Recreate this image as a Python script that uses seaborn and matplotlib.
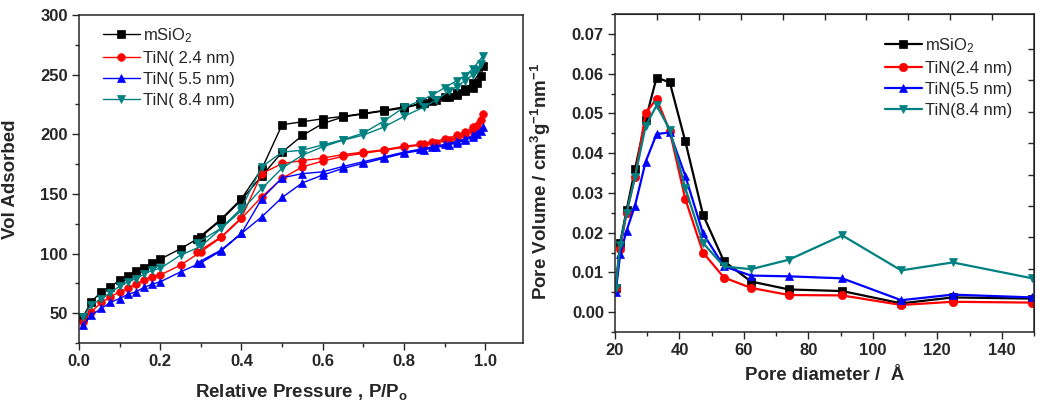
import numpy as np
import pandas as pd
import matplotlib
matplotlib.use("Agg")
import matplotlib.pyplot as plt
from matplotlib.ticker import MultipleLocator
import seaborn as sns

# ---- left panel: N2 isotherms (adsorption then desorption branch) ----
p_ads = [0.01, 0.03, 0.055, 0.077, 0.10, 0.12, 0.14, 0.16, 0.18, 0.20, 0.25, 0.30, 0.35, 0.40,
         0.45, 0.50, 0.55, 0.60, 0.65, 0.70, 0.75, 0.80, 0.85, 0.88, 0.91, 0.93, 0.95, 0.97, 0.98, 0.99]
p_des = [0.995, 0.97, 0.95, 0.93, 0.90, 0.87, 0.84, 0.80, 0.75, 0.70, 0.65, 0.60, 0.55, 0.50,
         0.45, 0.40, 0.35, 0.29]

sio2_ads = [47, 59.5, 67.9, 72, 77.7, 81.3, 85.5, 88.3, 92.2, 95.3, 104, 114, 128, 145,
            165, 185, 199, 209, 214.5, 217, 219.5, 222, 226, 228.5, 231, 233, 236, 239, 243, 249]
sio2_des = [257, 243, 238, 235, 231, 228, 225.5, 223, 220, 217.5, 215, 213, 210.5, 208,
            171, 146, 129, 112]
tin24_ads = [42.7, 51, 59, 63.7, 67.9, 70.7, 74.3, 77.7, 80.5, 82, 90.3, 101.4, 113.5, 129.4,
             147.6, 163, 172.7, 177.5, 181.5, 184, 186.5, 189, 191.5, 193, 195, 197, 199, 203, 207, 212]
tin24_des = [217, 206, 202, 199, 196, 193.5, 191.5, 190, 187, 185, 183, 180, 178, 175.5,
             167, 130, 114, 101]
tin55_ads = [40, 48.3, 54, 59, 62.3, 65.7, 67.9, 71.6, 74.3, 76.3, 84.6, 92.2, 102.3, 116.9,
             130.8, 147, 159.3, 165.8, 171.4, 175.6, 179.8, 184, 187, 189, 191, 193, 195, 198, 200, 203]
tin55_des = [206, 199, 196, 194, 191.5, 189.5, 187.5, 185, 181, 177, 173, 168.5, 167, 163.5,
             146, 117, 103, 92]
tin84_ads = [47, 56.7, 62.3, 67, 72.6, 76.3, 79, 82.7, 86, 87.5, 98.7, 106, 121, 136,
             154.6, 171.6, 182.5, 189.5, 195, 199.3, 206, 215, 223, 229, 236, 240, 245, 250, 254, 259]
tin84_des = [266, 255, 249, 245, 239, 233, 228, 222.5, 211, 201, 195.5, 191, 186.7, 185,
             172.7, 138, 121.3, 108.7]

# ---- right panel: pore size distribution ----
diam = [20.2, 21.6, 23.6, 26.2, 29.5, 32.9, 37.0, 41.8, 47.3, 53.8, 62.2, 74.0, 90.5, 108.8, 124.8, 149.5]
psd_sio2 = [0.006, 0.0174, 0.0257, 0.0359, 0.0484, 0.0590, 0.0578, 0.0430, 0.0245, 0.0128,
            0.0077, 0.0057, 0.0053, 0.0022, 0.0037, 0.0034]
psd_tin24 = [0.006, 0.016, 0.025, 0.034, 0.0500, 0.0537, 0.0455, 0.0285, 0.0150, 0.0087,
             0.0061, 0.0043, 0.0042, 0.0018, 0.0026, 0.0024]
psd_tin55 = [0.005, 0.0145, 0.0205, 0.0268, 0.0378, 0.0448, 0.0452, 0.0343, 0.0198, 0.0115,
             0.0092, 0.0090, 0.0085, 0.0030, 0.0044, 0.0037]
psd_tin84 = [0.006, 0.017, 0.025, 0.0340, 0.0468, 0.0520, 0.0459, 0.0312, 0.0174, 0.0115,
             0.0108, 0.0132, 0.0193, 0.0105, 0.0125, 0.0085]

colors = ["#000000", "#ff0000", "#0000ff", "#008080"]
markers = ["s", "o", "^", "v"]
left_labels = ["mSiO$_2$", "TiN( 2.4 nm)", "TiN( 5.5 nm)", "TiN( 8.4 nm)"]
right_labels = ["mSiO$_2$", "TiN(2.4 nm)", "TiN(5.5 nm)", "TiN(8.4 nm)"]

sns.set_style("ticks")
plt.rcParams["font.family"] = ["Liberation Sans", "DejaVu Sans"]
plt.rcParams["mathtext.fontset"] = "custom"
plt.rcParams["mathtext.rm"] = "Liberation Sans"
plt.rcParams["mathtext.bf"] = "Liberation Sans:bold"
plt.rcParams["mathtext.default"] = "regular"

W, H = 1059, 412
fig = plt.figure(figsize=(W / 100, H / 100), dpi=100)
ax1 = fig.add_axes([79 / W, (H - 343) / H, (523 - 79) / W, (343 - 15) / H])
ax2 = fig.add_axes([615 / W, (H - 332) / H, (1034 - 615) / W, (332 - 14) / H])

# isotherms
iso = [(sio2_ads, sio2_des), (tin24_ads, tin24_des), (tin55_ads, tin55_des), (tin84_ads, tin84_des)]
for (va, vd), c, m, lab in zip(iso, colors, markers, left_labels):
    df = pd.DataFrame({"P": p_ads + p_des, "V": va + vd})
    sns.lineplot(data=df, x="P", y="V", sort=False, estimator=None, ax=ax1, color=c,
                 marker=m, markersize=5.5, markeredgecolor=c, markeredgewidth=0.5,
                 linewidth=1.0, label=lab)

# pore size distributions
psd = [psd_sio2, psd_tin24, psd_tin55, psd_tin84]
for v, c, m, lab in zip(psd, colors, markers, right_labels):
    df = pd.DataFrame({"d": diam, "v": v})
    sns.lineplot(data=df, x="d", y="v", sort=False, estimator=None, ax=ax2, color=c,
                 marker=m, markersize=6, markeredgecolor=c, markeredgewidth=0.5,
                 linewidth=1.6, label=lab)

tick_font = dict(fontsize=12, fontweight="bold")
for ax in (ax1, ax2):
    for s in ax.spines.values():
        s.set_linewidth(1.1)
        s.set_visible(True)
    ax.tick_params(which="major", direction="out", length=5, width=1, pad=3)
    ax.tick_params(which="minor", direction="out", length=3, width=1)

ax1.set_xlim(0, 1.093)
ax1.set_ylim(25, 300)
ax1.xaxis.set_minor_locator(MultipleLocator(0.1))
ax1.yaxis.set_minor_locator(MultipleLocator(25))
ax1.set_xticks([0, 0.2, 0.4, 0.6, 0.8, 1.0])
ax1.set_xticklabels(["0.0", "0.2", "0.4", "0.6", "0.8", "1.0"], **tick_font)
ax1.set_yticks([50, 100, 150, 200, 250, 300])
ax1.set_yticklabels(["50", "100", "150", "200", "250", "300"], **tick_font)
ax1.set_xlabel("Relative Pressure , P/P$_\\mathbf{o}$", fontsize=13.5, fontweight="bold")
ax1.set_ylabel("Vol Adsorbed", fontsize=13.5, fontweight="bold")
ax1.xaxis.set_label_coords(0.5, -0.12)
ax1.yaxis.set_label_coords(-0.135, 0.5)

ax2.set_xlim(20, 150)
ax2.set_ylim(-0.005, 0.075)
ax2.set_xticks([20, 40, 60, 80, 100, 120, 140])
ax2.set_xticklabels(["20", "40", "60", "80", "100", "120", "140"], **tick_font)
ax2.set_yticks([0.0, 0.01, 0.02, 0.03, 0.04, 0.05, 0.06, 0.07])
ax2.set_yticklabels(["0.00", "0.01", "0.02", "0.03", "0.04", "0.05", "0.06", "0.07"], **tick_font)
ax2.xaxis.set_minor_locator(MultipleLocator(10))
ax2.yaxis.set_minor_locator(MultipleLocator(0.005))
ax2.set_xlabel("Pore diameter /  Å", fontsize=13.5, fontweight="bold")
ax2.set_ylabel("Pore Volume / cm$^\\mathbf{3}$g$^\\mathbf{-1}$nm$^\\mathbf{-1}$",
               fontsize=13.5, fontweight="bold")
ax2.xaxis.set_label_coords(0.5, -0.11)
ax2.yaxis.set_label_coords(-0.148, 0.475)

# mirrored inward ticks on top/right of the right panel
top = ax2.secondary_xaxis("top")
top.set_xticks(np.arange(33, 150, 13))
top.tick_params(direction="in", length=4, width=1, labeltop=False)
right = ax2.secondary_yaxis("right")
right.set_yticks(np.arange(0.003, 0.07, 0.0079))
right.tick_params(direction="in", length=4, width=1, labelright=False)

leg_kw = dict(frameon=False, fontsize=12, handlelength=2.2, handletextpad=0.2,
              labelspacing=0.36, borderpad=0, borderaxespad=0, loc="upper left")
ax1.legend(bbox_to_anchor=(0.054, 0.966), **leg_kw)
ax2.legend(bbox_to_anchor=(0.644, 0.931), **leg_kw)

fig.savefig("out.png", dpi=100)
